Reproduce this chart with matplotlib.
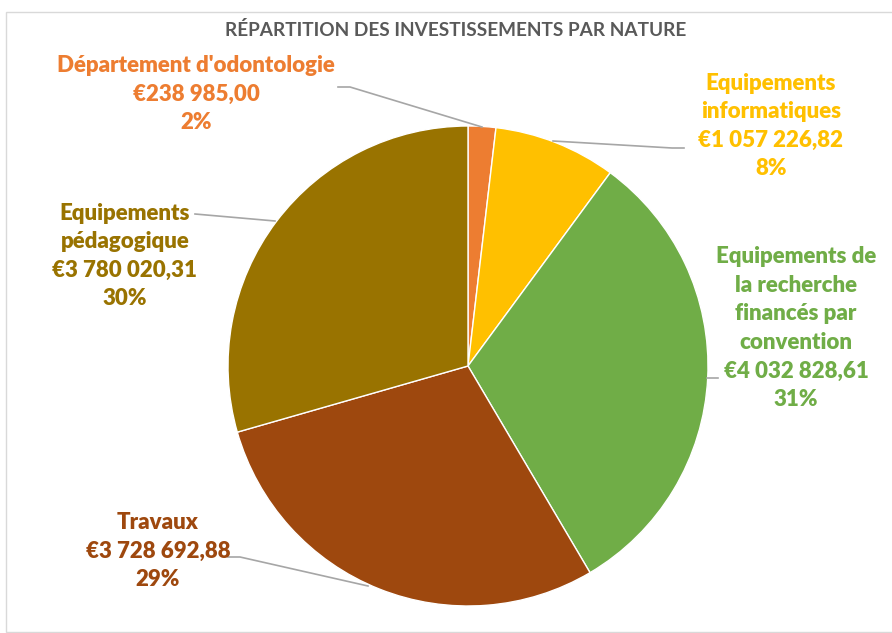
import matplotlib.pyplot as plt
from matplotlib.patches import Rectangle

# données
categories = ["Département d'odontologie", "Equipements\ninformatiques",
              "Equipements de\nla recherche\nfinancés par\nconvention",
              "Travaux", "Equipements\npédagogique"]
montants = [238985.00, 1057226.82, 4032828.61, 3728692.88, 3780020.31]
montants_txt = ["€238 985,00", "€1 057 226,82", "€4 032 828,61",
                "€3 728 692,88", "€3 780 020,31"]
pourcentages = ["2%", "8%", "31%", "29%", "30%"]
couleurs = ["#ED7D31", "#FFC000", "#70AD47", "#9E480E", "#997300"]

# positions des étiquettes (pixels) et lignes de rappel
pos_etiquettes = [(196, 94), (771, 126), (796, 328), (158, 551), (125, 256)]
lignes = [[(338, 87), (350, 87), (482, 127)],
          [(684, 148), (672, 148), (553, 141)],
          [(718, 378), (707, 378)],
          [(228, 557), (240, 557), (368, 586)],
          [(195, 214), (275, 221)]]

W, H = 892, 633
fig = plt.figure(figsize=(W / 100, H / 100), dpi=100)
ax = fig.add_axes([0, 0, 1, 1])

# cadre du graphique
ax.add_patch(Rectangle((6, 1), W - 5, H - 13, fill=False, edgecolor='#D9D9D9', lw=1))

ax.pie(montants, colors=couleurs, startangle=90, counterclock=False,
       center=(468, H - 366), radius=240, frame=True,
       wedgeprops=dict(edgecolor='white', linewidth=1))
ax.set_xlim(0, W)
ax.set_ylim(0, H)
ax.axis('off')

police = ['Lato', 'DejaVu Sans']

ax.text(456, H - 30, "RÉPARTITION DES INVESTISSEMENTS PAR NATURE", ha='center', va='center',
        fontsize=13.7, fontweight='bold', color='#595959', family=police)

for i in range(len(categories)):
    x, y = pos_etiquettes[i]
    texte = categories[i] + "\n" + montants_txt[i] + "\n" + pourcentages[i]
    ax.text(x, H - y, texte, ha='center', va='center', fontsize=16, fontweight='heavy',
            color=couleurs[i], family=police, linespacing=1.45)
    xs = [p[0] for p in lignes[i]]
    ys = [H - p[1] for p in lignes[i]]
    ax.plot(xs, ys, color='#A6A6A6', lw=1.2)

fig.savefig('out.png', dpi=100)
